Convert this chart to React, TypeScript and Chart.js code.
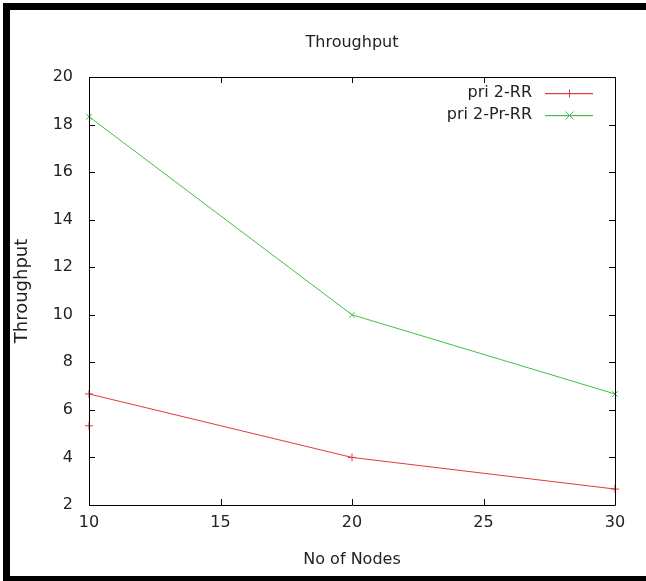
import React, { useEffect, useRef } from "react";
import { Chart, registerables } from "chart.js";

Chart.register(...registerables);

const chartTitle = "Throughput";
const xAxisTitle = "No of Nodes";
const yAxisTitle = "Throughput";

const xTicks = [10, 15, 20, 25, 30];
const yTicks = [2, 4, 6, 8, 10, 12, 14, 16, 18, 20];

const rrLabel = "pri 2-RR";
const rrX = [10, 10, 20, 30];
const rrY = [5.33, 6.67, 4.0, 2.67];

const prrLabel = "pri 2-Pr-RR";
const prrX = [10, 20, 30];
const prrY = [18.33, 10.0, 6.67];

const RED = "#e23a3a";
const GREEN = "#45bf45";
const TEXT = "#222";
const FONT = "'DejaVu Sans', sans-serif";
const SERIES_COLORS = [RED, GREEN];
const SERIES_MARKS = ["plus", "x"];

const framePlugin = {
  id: "frame",
  beforeDraw(chart: any) {
    const { ctx, width, height } = chart;
    ctx.save();
    ctx.fillStyle = "#fff";
    ctx.fillRect(0, 0, width, height);
    ctx.fillStyle = "#000";
    ctx.fillRect(3, 3, 7, height - 3);
    ctx.fillRect(3, 3, width - 3, 7);
    ctx.fillRect(3, 576, width - 3, 5);
    ctx.restore();
  },
};

const boxPlugin = {
  id: "box",
  afterDatasetsDraw(chart: any) {
    const { ctx, chartArea } = chart;
    const { left, right, top, bottom } = chartArea;
    const xs = chart.scales.x;
    const ys = chart.scales.y;
    const L = 6;
    ctx.save();
    ctx.strokeStyle = "#000";
    ctx.lineWidth = 1;
    ctx.beginPath();
    ctx.rect(Math.round(left) + 0.5, Math.round(top) + 0.5, Math.round(right - left), Math.round(bottom - top));
    xTicks.forEach((v) => {
      const px = Math.round(xs.getPixelForValue(v)) + 0.5;
      ctx.moveTo(px, bottom);
      ctx.lineTo(px, bottom - L);
      ctx.moveTo(px, top);
      ctx.lineTo(px, top + L);
    });
    yTicks.forEach((v) => {
      const py = Math.round(ys.getPixelForValue(v)) + 0.5;
      ctx.moveTo(left, py);
      ctx.lineTo(left + L, py);
      ctx.moveTo(right, py);
      ctx.lineTo(right - L, py);
    });
    ctx.stroke();
    ctx.restore();
  },
  afterDraw(chart: any) {
    const { ctx, chartArea } = chart;
    ctx.save();
    // title
    ctx.font = `16px ${FONT}`;
    ctx.fillStyle = TEXT;
    ctx.textAlign = "center";
    ctx.textBaseline = "middle";
    ctx.fillText(chartTitle, (chartArea.left + chartArea.right) / 2, 43);
    // legend
    const rows = [93, 115];
    ctx.textAlign = "right";
    chart.data.datasets.forEach((ds: any, i: number) => {
      const y = rows[i];
      ctx.fillStyle = TEXT;
      ctx.fillText(ds.label, 532, y);
      ctx.fillStyle = SERIES_COLORS[i];
      ctx.fillRect(545, y, 48, 1.2);
      ctx.strokeStyle = SERIES_COLORS[i];
      ctx.lineWidth = 1;
      ctx.beginPath();
      const cx = 569.5;
      const cy = y + 0.5;
      const r = 4;
      if (SERIES_MARKS[i] === "plus") {
        ctx.moveTo(cx, cy - r);
        ctx.lineTo(cx, cy + r);
      } else {
        ctx.moveTo(cx - r, cy - r);
        ctx.lineTo(cx + r, cy + r);
        ctx.moveTo(cx - r, cy + r);
        ctx.lineTo(cx + r, cy - r);
      }
      ctx.stroke();
    });
    ctx.restore();
  },
};

export default function App() {
  const ref = useRef<HTMLCanvasElement | null>(null);
  useEffect(() => {
    if (!ref.current) return;
    const chart = new Chart(ref.current, {
      type: "line",
      data: {
        datasets: [
          {
            label: rrLabel,
            data: rrX.map((x, i) => ({ x, y: rrY[i] })),
            borderColor: RED,
            backgroundColor: RED,
            borderWidth: 1,
            pointStyle: "cross",
            pointRadius: 4,
            pointBorderWidth: 1,
            pointBorderColor: RED,
            tension: 0,
            fill: false,
            segment: {
              borderColor: (c: any) => (c.p0DataIndex === 0 ? "rgba(0,0,0,0)" : RED),
            },
          },
          {
            label: prrLabel,
            data: prrX.map((x, i) => ({ x, y: prrY[i] })),
            borderColor: GREEN,
            backgroundColor: GREEN,
            borderWidth: 1,
            pointStyle: "crossRot",
            pointRadius: 4,
            pointBorderWidth: 1,
            pointBorderColor: GREEN,
            tension: 0,
            fill: false,
          },
        ],
      },
      options: {
        responsive: false,
        animation: false,
        clip: false as any,
        layout: { padding: { left: 0, top: 77, right: 31, bottom: 0 } },
        plugins: {
          legend: { display: false },
          tooltip: { enabled: false },
          title: { display: false },
        },
        scales: {
          x: {
            type: "linear",
            min: 10,
            max: 30,
            afterFit: (s: any) => {
              s.height = 76;
            },
            afterBuildTicks: (s: any) => {
              s.ticks = xTicks.map((v) => ({ value: v }));
            },
            ticks: {
              color: TEXT,
              font: { family: FONT, size: 16 },
              padding: 8,
              maxRotation: 0,
            },
            grid: { display: false, drawTicks: false },
            border: { display: false },
            title: {
              display: true,
              text: xAxisTitle,
              color: TEXT,
              font: { family: FONT, size: 16 },
              padding: { top: 0, bottom: 12 },
            },
          },
          y: {
            type: "linear",
            min: 2,
            max: 20,
            afterFit: (s: any) => {
              s.width = 89;
            },
            afterBuildTicks: (s: any) => {
              s.ticks = yTicks.map((v) => ({ value: v }));
            },
            ticks: {
              color: TEXT,
              font: { family: FONT, size: 16 },
              padding: 16,
            },
            grid: { display: false, drawTicks: false },
            border: { display: false },
            title: {
              display: true,
              text: yAxisTitle,
              color: TEXT,
              font: { family: FONT, size: 18 },
              padding: { top: 12, bottom: 0 },
            },
          },
        },
      },
      plugins: [framePlugin, boxPlugin],
    });
    return () => chart.destroy();
  }, []);
  return (
    <div style={{ position: "absolute", left: 0, top: 0, width: 646, height: 581 }}>
      <canvas ref={ref} width={646} height={581} style={{ display: "block" }} />
    </div>
  );
}
